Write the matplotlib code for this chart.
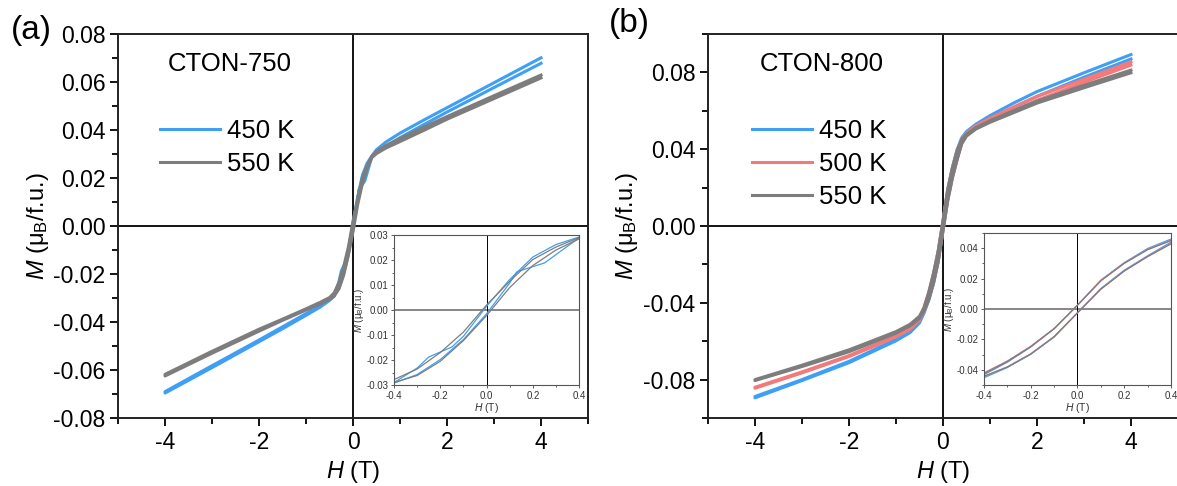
import matplotlib
matplotlib.use('Agg')
import matplotlib.pyplot as plt
from matplotlib.ticker import MultipleLocator, FormatStrFormatter

plt.rcParams['font.family'] = ['Liberation Sans', 'DejaVu Sans']
plt.rcParams['mathtext.fontset'] = 'custom'
plt.rcParams['mathtext.rm'] = 'Liberation Sans'
plt.rcParams['mathtext.it'] = 'Liberation Sans:italic'
plt.rcParams['axes.unicode_minus'] = False

# field sweeps (T): +4 -> -4 then -4 -> +4
h_down = [4.0, 3.0, 2.0, 1.5, 1.0, 0.7, 0.5, 0.4, 0.3, 0.2, 0.1, 0.0,
          -0.1, -0.2, -0.3, -0.4, -0.5, -0.7, -1.0, -1.5, -2.0, -3.0, -4.0]
h_up = h_down[::-1]

# ---- CTON-750 ----
h_a450_down = [4.0, 3.0, 2.0, 1.5, 1.0, 0.7, 0.5, 0.4, 0.3, 0.2, 0.1, 0.0,
               -0.1, -0.15, -0.25, -0.3, -0.4, -0.5, -0.7, -1.0, -1.5, -2.0, -3.0, -4.0]
m_a450_down = [0.0701, 0.0597, 0.0493, 0.0441, 0.0387, 0.0350, 0.0318, 0.0292, 0.0262, 0.0212, 0.0122, 0.0015,
               -0.0105, -0.0148, -0.0188, -0.0232, -0.0290, -0.0306, -0.0330, -0.0365, -0.0420, -0.0475, -0.0582, -0.0690]
h_a450_up = [-4.0, -3.0, -2.0, -1.5, -1.0, -0.7, -0.5, -0.4, -0.3, -0.2, -0.1, 0.0,
             0.1, 0.13, 0.18, 0.25, 0.36, 0.4, 0.5, 0.7, 1.0, 1.5, 2.0, 3.0, 4.0]
m_a450_up = [-0.0696, -0.0590, -0.0482, -0.0428, -0.0372, -0.0338, -0.0310, -0.0292, -0.0258, -0.0198, -0.0118, -0.0015,
             0.0108, 0.0152, 0.0168, 0.0188, 0.0262, 0.0288, 0.0305, 0.0332, 0.0368, 0.0422, 0.0475, 0.0577, 0.0678]
m_a550_down = [0.0629, 0.0543, 0.0456, 0.0411, 0.0365, 0.0335, 0.0312, 0.0290, 0.0252, 0.0202, 0.0115, 0.0020,
               -0.0088, -0.0170, -0.0236, -0.0278, -0.0298, -0.0318, -0.0345, -0.0388, -0.0430, -0.0522, -0.0618]
m_a550_up = [-0.0625, -0.0530, -0.0438, -0.0393, -0.0350, -0.0325, -0.0305, -0.0290, -0.0262, -0.0205, -0.0122, -0.0022,
             0.0090, 0.0178, 0.0240, 0.0285, 0.0302, 0.0325, 0.0352, 0.0398, 0.0445, 0.0531, 0.0617]

# ---- CTON-800 ----
m_b450_down = [0.0893, 0.0798, 0.0700, 0.0640, 0.0575, 0.0530, 0.0492, 0.0460, 0.0398, 0.0305, 0.0190, 0.0025,
               -0.0130, -0.0250, -0.0350, -0.0432, -0.0495, -0.0545, -0.0590, -0.0648, -0.0705, -0.0800, -0.0888]
m_b450_up = [-0.0895, -0.0805, -0.0712, -0.0655, -0.0598, -0.0555, -0.0505, -0.0452, -0.0385, -0.0298, -0.0185, -0.0025,
             0.0135, 0.0255, 0.0350, 0.0440, 0.0480, 0.0520, 0.0560, 0.0617, 0.0675, 0.0775, 0.0870]
m_b500_down = [0.0855, 0.0765, 0.0675, 0.0620, 0.0562, 0.0522, 0.0485, 0.0452, 0.0392, 0.0302, 0.0188, 0.0025,
               -0.0128, -0.0245, -0.0342, -0.0420, -0.0480, -0.0530, -0.0570, -0.0623, -0.0675, -0.0760, -0.0840]
m_b500_up = [-0.0845, -0.0765, -0.0680, -0.0630, -0.0578, -0.0538, -0.0490, -0.0445, -0.0380, -0.0295, -0.0182, -0.0025,
             0.0132, 0.0250, 0.0345, 0.0432, 0.0472, 0.0510, 0.0552, 0.0602, 0.0655, 0.0748, 0.0838]
m_b550_down = [0.0812, 0.0733, 0.0650, 0.0600, 0.0548, 0.0512, 0.0478, 0.0450, 0.0390, 0.0300, 0.0185, 0.0025,
               -0.0130, -0.0248, -0.0345, -0.0425, -0.0470, -0.0512, -0.0550, -0.0598, -0.0645, -0.0725, -0.0800]
m_b550_up = [-0.0805, -0.0732, -0.0655, -0.0607, -0.0558, -0.0520, -0.0482, -0.0442, -0.0382, -0.0296, -0.0182, -0.0025,
             0.0130, 0.0250, 0.0345, 0.0428, 0.0468, 0.0505, 0.0540, 0.0590, 0.0640, 0.0720, 0.0798]

blue, red, gray = '#3f9ff4', '#f27a7a', '#7d7d7d'

series_a = [('450 K', blue, h_a450_down + h_a450_up, m_a450_down + m_a450_up),
            ('550 K', gray, h_down + h_up, m_a550_down + m_a550_up)]
series_b = [('450 K', blue, h_down + h_up, m_b450_down + m_b450_up),
            ('500 K', red, h_down + h_up, m_b500_down + m_b500_up),
            ('550 K', gray, h_down + h_up, m_b550_down + m_b550_up)]

ylabel = r'$M$ (μ$_\mathrm{B}$/f.u.)'
xlabel = r'$H$ (T)'

fig = plt.figure(figsize=(11.77, 4.86), dpi=100)


def main_panel(rect, series, ylim, ymaj, ymin, name, name_x, tag, tag_xy, leg_x):
    ax = fig.add_axes(rect)
    for lab, c, h, m in series:
        ax.plot(h, m, color=c, lw=2.2, label=lab)
    ax.axhline(0, color='k', lw=1.3, zorder=0)
    ax.axvline(0, color='k', lw=1.3, zorder=0)
    ax.set_xlim(-5, 5)
    ax.set_ylim(*ylim)
    ax.xaxis.set_major_locator(MultipleLocator(2))
    ax.xaxis.set_minor_locator(MultipleLocator(1))
    ax.yaxis.set_major_locator(MultipleLocator(ymaj))
    ax.yaxis.set_minor_locator(MultipleLocator(ymin))
    ax.yaxis.set_major_formatter(FormatStrFormatter('%.2f'))
    ax.tick_params(which='both', direction='out', labelsize=16.5, width=1.3, pad=3,
                   top=False, right=False)
    ax.tick_params(which='major', length=6)
    ax.tick_params(which='minor', length=4)
    for s in ax.spines.values():
        s.set_linewidth(1.4)
        s.set_color('#222222')
    ax.set_xlabel(xlabel, fontsize=17, labelpad=4)
    ax.set_ylabel(ylabel, fontsize=17, labelpad=2)
    ax.text(name_x, 0.922, name, transform=ax.transAxes, fontsize=18.5, ha='center', va='center')
    ax.legend(loc='upper left', bbox_to_anchor=(leg_x, 0.778), frameon=False, fontsize=18.5,
              handlelength=2.33, handletextpad=0.27, labelspacing=0.35, borderpad=0, borderaxespad=0)
    fig.text(tag_xy[0], tag_xy[1], tag, fontsize=24, ha='center', va='center')
    return ax


def inset(rect, series, ylim, ymaj, ymin):
    ax = fig.add_axes(rect)
    for lab, c, h, m in series:
        ax.plot(h, m, color=c, lw=0.9)
    ax.axhline(0, color='#666666', lw=1.1, zorder=0)
    ax.axvline(0, color='k', lw=0.7, zorder=0)
    ax.set_xlim(-0.4, 0.4)
    ax.set_ylim(*ylim)
    ax.xaxis.set_major_locator(MultipleLocator(0.2))
    ax.xaxis.set_minor_locator(MultipleLocator(0.1))
    ax.yaxis.set_major_locator(MultipleLocator(ymaj))
    ax.yaxis.set_minor_locator(MultipleLocator(ymin))
    ax.xaxis.set_major_formatter(FormatStrFormatter('%.1f'))
    ax.yaxis.set_major_formatter(FormatStrFormatter('%.2f'))
    ax.tick_params(which='both', direction='out', labelsize=7, width=0.6, pad=1.5,
                   labelcolor='#333333', color='#444444')
    ax.tick_params(which='major', length=2.5)
    ax.tick_params(which='minor', length=1.5)
    for s in ax.spines.values():
        s.set_linewidth(0.8)
        s.set_color('#555555')
    ax.set_xlabel(xlabel, fontsize=7.5, labelpad=0.5, color='#333333')
    ax.set_ylabel(ylabel, fontsize=7, labelpad=0.5, color='#333333')
    return ax


main_panel([0.1003, 0.1399, 0.3993, 0.7901], series_a, (-0.08, 0.08), 0.02, 0.01,
           'CTON-750', 0.238, '(a)', (0.027, 0.938), 0.0894)
main_panel([0.6015, 0.1399, 0.3993, 0.7901], series_b, (-0.1, 0.1), 0.04, 0.02,
           'CTON-800', 0.2426, '(b)', (0.535, 0.952), 0.0936)
inset([0.3348, 0.2078, 0.1572, 0.3086], series_a, (-0.03, 0.03), 0.01, 0.005)
inset([0.8360, 0.2078, 0.1589, 0.3128], series_b, (-0.05, 0.05), 0.02, 0.01)

fig.savefig('out.png', dpi=100)
